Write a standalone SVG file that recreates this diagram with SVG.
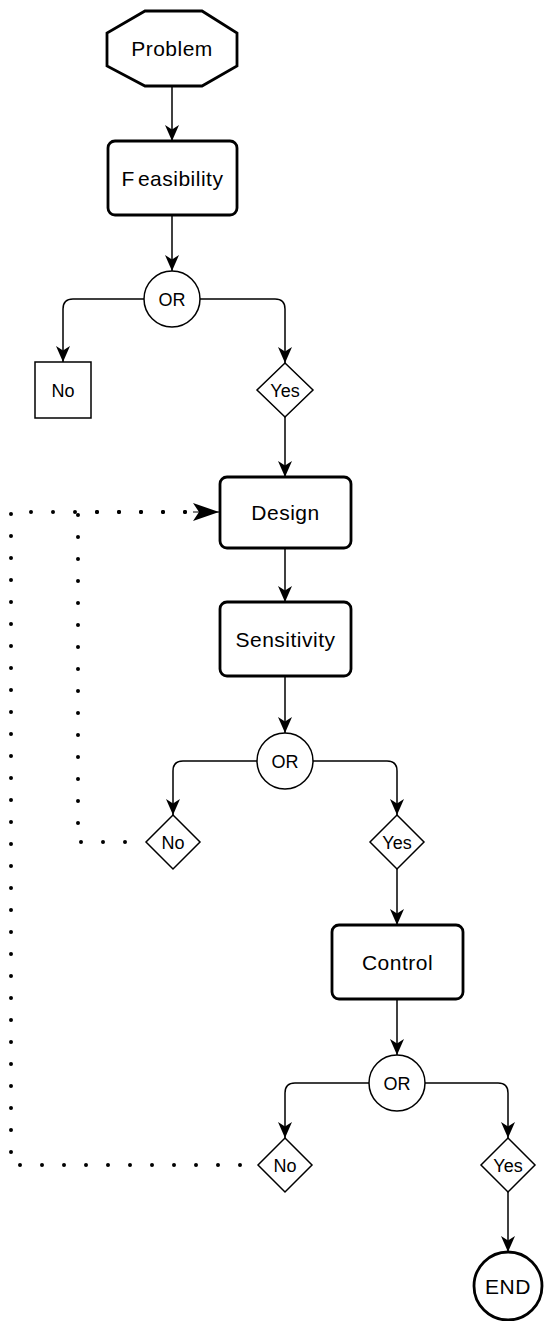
<svg xmlns="http://www.w3.org/2000/svg" width="544" height="1321" viewBox="0 0 544 1321">
<style>
  .thick { fill: #fff; stroke: #000; stroke-width: 2.8; }
  .thin { fill: #fff; stroke: #000; stroke-width: 1.5; }
  .lbl { font-family: "Liberation Sans", Arial, sans-serif; font-size: 21px; letter-spacing: 0.5px; text-anchor: middle; fill: #000; }
  .sm { font-family: "Liberation Sans", Arial, sans-serif; font-size: 18px; text-anchor: middle; fill: #000; }
  .edge { fill: none; stroke: #000; stroke-width: 1.5; marker-end: url(#arr); }
  .dot { fill: none; stroke: #000; stroke-width: 4; stroke-linecap: round; stroke-dasharray: 0 22; }
</style>
<defs>
  <marker id="arr" markerUnits="userSpaceOnUse" markerWidth="16" markerHeight="14" refX="16" refY="7" orient="auto" overflow="visible">
    <path d="M16,7 L0,0 L4.5,7 L0,14 Z" fill="#000"/>
  </marker>
  <marker id="arrBig" markerUnits="userSpaceOnUse" markerWidth="26" markerHeight="20" refX="26" refY="9" orient="auto" overflow="visible">
    <path d="M26,9 L0,0 L6,9 L0,18 Z" fill="#000"/>
  </marker>
</defs>

<g id="connectors">
  <path class="edge" d="M172,86 V141"/>
  <path class="edge" d="M172,215 V271"/>
  <path class="edge" d="M144,299 H73 Q63,299 63,309 V362"/>
  <path class="edge" d="M200,299 H275 Q285,299 285,309 V363"/>
  <path class="edge" d="M285,417 V477"/>
  <path class="edge" d="M285,548 V602"/>
  <path class="edge" d="M285,676 V733"/>
  <path class="edge" d="M257,761 H183 Q173,761 173,771 V815"/>
  <path class="edge" d="M313,761 H387 Q397,761 397,771 V815"/>
  <path class="edge" d="M397,869 V925"/>
  <path class="edge" d="M397,999 V1055"/>
  <path class="edge" d="M369,1083 H295 Q285,1083 285,1093 V1138"/>
  <path class="edge" d="M425,1083 H498 Q508,1083 508,1093 V1138"/>
  <path class="edge" d="M508,1192 V1252"/>
  <path class="dot" d="M125,842 H78 V512 H190"/>
  <path class="dot" d="M240,1165 H11 V512 H190"/>
  <path d="M193,512 H219" fill="none" stroke="#000" stroke-width="1" marker-end="url(#arrBig)"/>
</g>

<g id="problem">
  <polygon class="thick" points="145,11 202,11 237,33 237,66 202,86 145,86 107,66 107,33"/>
  <text class="lbl" x="172" y="56">Problem</text>
</g>
<g id="feasibility">
  <rect class="thick" x="108" y="141" width="129" height="74" rx="7"/>
  <text class="lbl" x="172.5" y="186">F<tspan dx="3">easibility</tspan></text>
</g>
<g id="or1">
  <circle class="thin" cx="172" cy="299" r="28"/>
  <text class="sm" x="172" y="305.5">OR</text>
</g>
<g id="no1">
  <rect class="thin" x="35" y="362" width="56" height="56"/>
  <text class="sm" x="63" y="396.5">No</text>
</g>
<g id="yes1">
  <polygon class="thin" points="285,363 313,390 285,417 257,390"/>
  <text class="sm" x="285" y="396.5">Yes</text>
</g>
<g id="design">
  <rect class="thick" x="220" y="477" width="131" height="71" rx="7"/>
  <text class="lbl" x="285.5" y="520">Design</text>
</g>
<g id="sensitivity">
  <rect class="thick" x="220" y="602" width="131" height="74" rx="7"/>
  <text class="lbl" x="285.5" y="647">Sensitivity</text>
</g>
<g id="or2">
  <circle class="thin" cx="285" cy="761" r="28"/>
  <text class="sm" x="285" y="767.5">OR</text>
</g>
<g id="no2">
  <polygon class="thin" points="173,815 200,842 173,869 146,842"/>
  <text class="sm" x="173" y="848.5">No</text>
</g>
<g id="yes2">
  <polygon class="thin" points="397,815 424,842 397,869 370,842"/>
  <text class="sm" x="397" y="848.5">Yes</text>
</g>
<g id="control">
  <rect class="thick" x="332" y="925" width="131" height="74" rx="7"/>
  <text class="lbl" x="397.5" y="970">Control</text>
</g>
<g id="or3">
  <circle class="thin" cx="397" cy="1083" r="28"/>
  <text class="sm" x="397" y="1089.5">OR</text>
</g>
<g id="no3">
  <polygon class="thin" points="285,1138 312,1165 285,1192 258,1165"/>
  <text class="sm" x="285" y="1171.5">No</text>
</g>
<g id="yes3">
  <polygon class="thin" points="508,1138 535,1165 508,1192 481,1165"/>
  <text class="sm" x="508" y="1171.5">Yes</text>
</g>
<g id="end">
  <circle class="thick" cx="508" cy="1286" r="34"/>
  <text class="lbl" x="508" y="1293.5">END</text>
</g>
</svg>
